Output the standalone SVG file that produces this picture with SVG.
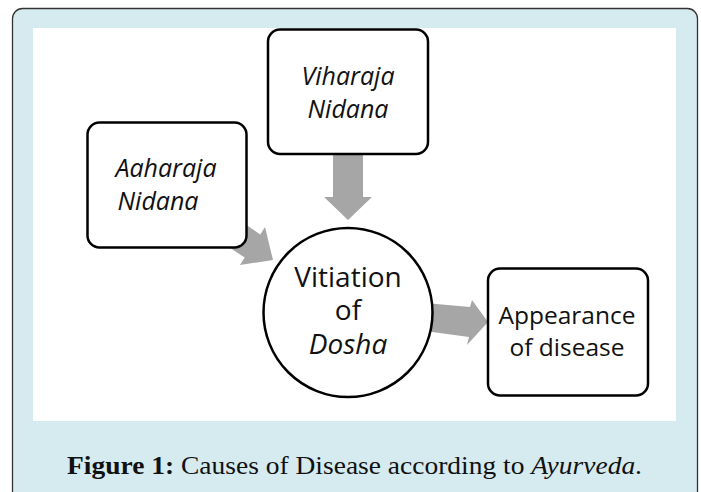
<svg xmlns="http://www.w3.org/2000/svg" width="701" height="492" viewBox="0 0 701 492">
<style>
.box{fill:#fff;stroke:#000;stroke-width:2.5}
.arr{fill:#a6a6a6}
.t{font-family:"Open Sans","Liberation Sans",sans-serif;fill:#111;text-anchor:middle}
.i{font-style:italic}
.cap{font-family:"Liberation Serif","DejaVu Serif",serif;font-size:26px;fill:#111}
</style>
<rect x="12.5" y="8.5" width="685" height="510" rx="10" fill="#d6ebf0" stroke="#333" stroke-width="1.3"/>
<rect x="33" y="28" width="643" height="393" fill="#fff"/>
<g id="connectors">
<polygon class="arr" points="333,150 363,150 363,197 372,197 348,220 324,197 333,197"/>
<polygon class="arr" points="227,212 260.3,234.4 265,227 273,260 240,265 244.7,257.6 211.5,235.5"/>
<polygon class="arr" points="425,303 470,307 472,300 488,322 467,345 469,337 425,331"/>
</g>
<g id="aaharaja">
<rect class="box" x="87.5" y="122.5" width="159" height="125" rx="12"/>
<text class="t i" font-size="25" x="166" y="177">Aaharaja</text>
<text class="t i" font-size="25" x="158" y="210">Nidana</text>
</g>
<g id="viharaja">
<rect class="box" x="268" y="29.5" width="160" height="124.5" rx="12"/>
<text class="t i" font-size="25" x="348" y="85">Viharaja</text>
<text class="t i" font-size="25" x="348" y="118">Nidana</text>
</g>
<g id="vitiation">
<circle class="box" cx="348" cy="312.5" r="84.5"/>
<text class="t" font-size="28" x="348" y="287">Vitiation</text>
<text class="t" font-size="28" x="348" y="320">of</text>
<text class="t i" font-size="28" x="348" y="354">Dosha</text>
</g>
<g id="appearance">
<rect class="box" x="488" y="268.5" width="160" height="127" rx="12"/>
<text class="t" font-size="24.5" x="567" y="324">Appearance</text>
<text class="t" font-size="24.5" x="567" y="356">of disease</text>
</g>
<text class="cap" x="67" y="474" textLength="575" lengthAdjust="spacingAndGlyphs"><tspan font-weight="bold">Figure 1:</tspan> Causes of Disease according to <tspan font-style="italic">Ayurveda</tspan>.</text>
</svg>
